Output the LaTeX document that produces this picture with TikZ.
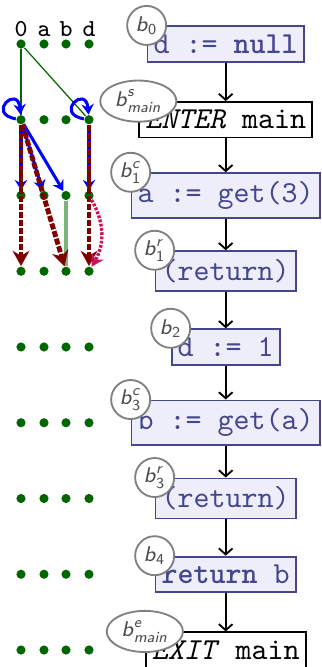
\documentclass[tikz,border=0pt]{standalone}
\usepackage{amsmath}
\usetikzlibrary{arrows.meta,shapes.geometric}
\definecolor{dotgreen}{RGB}{0,102,0}
\definecolor{lightgreen}{RGB}{125,180,125}
\definecolor{boxline}{RGB}{70,70,140}
\definecolor{boxfill}{RGB}{238,238,250}
\definecolor{flowred}{RGB}{128,0,0}
\definecolor{curvered}{RGB}{200,20,90}

\begin{document}
\begin{tikzpicture}[x=0.328pt,y=0.328pt,
    dot/.style={circle,fill=dotgreen,inner sep=0pt,minimum size=3pt},
    stmt/.style={draw=boxline,fill=boxfill,text=boxline,line width=0.6pt,font=\ttfamily,inner xsep=2pt,inner ysep=2.7pt},
    ctrl/.style={draw=black,fill=white,line width=0.6pt,font=\ttfamily,inner xsep=2pt,inner ysep=2.7pt},
    lbl/.style={circle,draw=gray,fill=white,line width=0.6pt,text=black!70,font=\scriptsize,inner sep=0.5pt,minimum size=12.8pt},
    lble/.style={ellipse,draw=gray,fill=white,line width=0.6pt,text=black!70,font=\scriptsize,inner sep=0pt,minimum width=25pt,minimum height=13.5pt},
    flow/.style={line width=0.6pt,-{Straight Barb[length=2pt,width=4.5pt]}},
    thinedge/.style={dotgreen,line width=0.4pt},
    keepedge/.style={lightgreen,line width=1pt},
    bluedge/.style={blue,line width=1pt,-{Stealth[length=3.4pt,width=4pt]}},
    selfloop/.style={blue,line width=1pt,-{Stealth[length=3.4pt,width=4pt]},min distance=10pt},
    rededge/.style={flowred,line width=1.6pt,dash pattern=on 2pt off 0.6pt,-{Stealth[length=5pt,width=5.5pt]}},
    curvedge/.style={curvered,line width=1.1pt,dash pattern=on 0.9pt off 0.5pt,-{Stealth[length=4pt,width=4.5pt]}}]
  \useasboundingbox (0,0) rectangle (321,-667);
  \clip (0,0) rectangle (321,-667);
  % 变量名
  \foreach \c/\x/\t in {z/21/0,a/44/a,b/66/b,d/89/d}
    \node[font=\ttfamily\footnotesize,anchor=base] (h\c) at (\x,-37) {\t};
  % 点阵
  \foreach \r in {0,...,8}{
    \foreach \c/\x in {z/21,a/44,b/66,d/89}{
      \node[dot] (v\c\r) at (\x,{-44-75.75*\r}) {};
    }
  }
  % 语句方框
  \node[stmt] (B0) at (225.7,-44) {d := \textbf{null}};
  \node[ctrl] (Bs) at (225.7,-119.75) {\textit{ENTER} main};
  \node[stmt] (B1c) at (225.7,-195.5) {a := get(3)};
  \node[stmt] (B1r) at (225.7,-271.25) {(return)};
  \node[stmt] (B2) at (225.7,-347) {d := 1};
  \node[stmt] (B3c) at (225.7,-422.75) {b := get(a)};
  \node[stmt] (B3r) at (225.7,-498.5) {(return)};
  \node[stmt] (B4) at (225.7,-574.25) {\textbf{return} b};
  \node[ctrl] (Be) at (225.7,-650) {\textit{EXIT} main};
  % 控制流
  \foreach \p/\q in {B0/Bs,Bs/B1c,B1c/B1r,B1r/B2,B2/B3c,B3c/B3r,B3r/B4,B4/Be}
    \draw[flow] (\p.south) -- (\q.north);
  % 标号
  \node[lbl] (L0) at (B0.north west) {\textsf{\textit{b}}$_{\textsf{0}}$};
  \node[lble] (Ls) at (Bs.north west) {\textsf{\textit{b}}$^{\textsf{\textit{s}}}_{\textsf{\textit{main}}}$};
  \node[lbl] (L1c) at (B1c.north west) {\textsf{\textit{b}}$^{\textsf{\textit{c}}}_{\textsf{1}}$};
  \node[lbl] (L1r) at (B1r.north west) {\textsf{\textit{b}}$^{\textsf{\textit{r}}}_{\textsf{1}}$};
  \node[lbl] (L2) at (B2.north west) {\textsf{\textit{b}}$_{\textsf{2}}$};
  \node[lbl] (L3c) at (B3c.north west) {\textsf{\textit{b}}$^{\textsf{\textit{c}}}_{\textsf{3}}$};
  \node[lbl] (L3r) at (B3r.north west) {\textsf{\textit{b}}$^{\textsf{\textit{r}}}_{\textsf{3}}$};
  \node[lbl] (L4) at (B4.north west) {\textsf{\textit{b}}$_{\textsf{4}}$};
  \node[lble] (Le) at (Be.north west) {\textsf{\textit{b}}$^{\textsf{\textit{e}}}_{\textsf{\textit{main}}}$};
  % 依赖边
  \draw[thinedge] (vz0) -- (vz1);
  \draw[thinedge] (vz0) -- (vd1);
  \draw[keepedge] (vb2) -- (vb3);
  \draw[selfloop] (vz1) to[out=170,in=95] (vz1);
  \draw[selfloop] (vd1) to[out=170,in=95] (vd1);
  \draw[bluedge] (vz1) -- (vz2);
  \draw[bluedge] (vz1) -- (va2);
  \draw[bluedge] (vz1) -- (vb2);
  \draw[bluedge] (vd1) -- (vd2);
  \draw[rededge] (vz1) -- (vz3);
  \draw[rededge] (vz1) -- (vb3);
  \draw[rededge] (vd1) -- (vd3);
  \draw[curvedge] (vd2) to[bend left=30] (vd3);
\end{tikzpicture}
\end{document}
